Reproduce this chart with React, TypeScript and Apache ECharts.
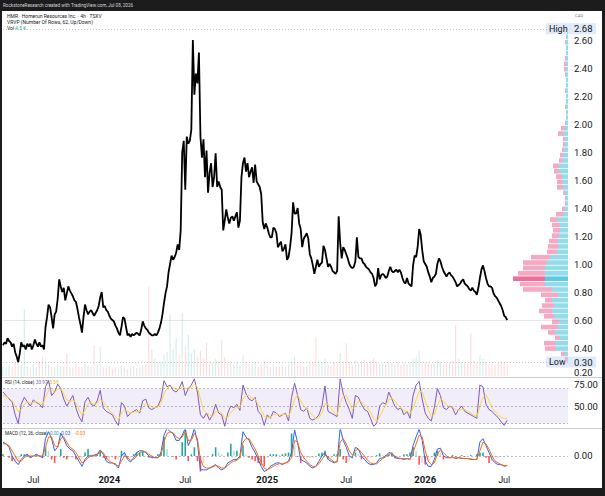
import React, { useEffect, useRef } from "react";
import * as echarts from "echarts";

// ---------- data ----------
// closing price, two samples per week
const priceClose = [
  0.42, 0.44, 0.43, 0.47, 0.45, 0.44, 0.41, 0.43, 0.37, 0.34,
  0.3, 0.36, 0.44, 0.41, 0.42, 0.39, 0.43, 0.41, 0.43, 0.39,
  0.42, 0.46, 0.43, 0.41, 0.44, 0.41, 0.42, 0.39, 0.55, 0.62,
  0.71, 0.69, 0.62, 0.54, 0.64, 0.66, 0.75, 0.89, 0.84, 0.8,
  0.83, 0.74, 0.79, 0.84, 0.81, 0.79, 0.77, 0.74, 0.73, 0.68,
  0.62, 0.57, 0.51, 0.62, 0.71, 0.67, 0.64, 0.66, 0.67, 0.65,
  0.63, 0.65, 0.67, 0.7, 0.76, 0.8, 0.69, 0.7, 0.67, 0.66,
  0.63, 0.61, 0.6, 0.59, 0.56, 0.54, 0.51, 0.49, 0.55, 0.62,
  0.61, 0.55, 0.49, 0.5, 0.48, 0.5, 0.49, 0.5, 0.51, 0.5,
  0.49, 0.53, 0.59, 0.56, 0.54, 0.53, 0.51, 0.5, 0.49, 0.49,
  0.5, 0.49, 0.51, 0.54, 0.58, 0.64, 0.72, 0.79, 0.84, 0.94,
  1.0, 1.06, 1.03, 1.05, 1.08, 1.14, 1.1, 1.24, 1.8, 1.88,
  1.53, 1.91, 1.86, 1.88, 1.96, 2.6, 2.21, 2.36, 2.29, 2.51,
  1.91, 1.76, 1.89, 1.62, 1.81, 1.51, 1.65, 1.72, 1.55, 1.62,
  1.79, 1.55, 1.59, 1.55, 1.53, 1.24, 1.31, 1.39, 1.33, 1.29,
  1.33, 1.34, 1.31, 1.34, 1.37, 1.26, 1.31, 1.62, 1.72, 1.76,
  1.66, 1.72, 1.62, 1.66, 1.69, 1.58, 1.71, 1.59, 1.57, 1.55,
  1.5, 1.3, 1.25, 1.29, 1.26, 1.22, 1.19, 1.19, 1.26, 1.25,
  1.22, 1.12, 1.14, 1.16, 1.09, 1.11, 1.14, 1.03, 1.05, 1.12,
  1.22, 1.44, 1.36, 1.36, 1.4, 1.29, 1.25, 1.12, 1.18, 1.2,
  1.22, 1.18, 1.07, 1.04, 0.99, 0.93, 0.98, 1.03, 0.98, 1.0,
  1.01, 1.13, 1.1, 1.04, 0.98, 1.0, 0.98, 0.95, 0.94, 0.93,
  0.95, 1.34, 1.15, 1.04, 1.12, 1.1, 1.07, 1.04, 1.0, 0.98,
  0.97, 0.98, 1.02, 1.19, 1.05, 1.04, 1.04, 1.01, 1.0, 0.98,
  0.97, 0.96, 0.94, 0.93, 0.9, 0.84, 0.86, 0.97, 0.89, 0.92,
  0.93, 0.92, 0.9, 0.91, 0.95, 0.98, 0.95, 0.94, 0.95, 0.96,
  0.94, 0.96, 0.94, 0.9, 0.87, 0.86, 0.9, 0.86, 0.85, 0.84,
  0.99, 1.06, 1.05, 1.12, 1.25, 1.21, 1.1, 1.02, 1.0, 0.98,
  0.94, 0.91, 0.87, 0.9, 0.91, 0.93, 1.0, 1.04, 1.02, 0.98,
  0.95, 0.93, 0.91, 0.93, 0.94, 0.92, 0.91, 0.89, 0.87, 0.84,
  0.85, 0.86, 0.88, 0.89, 0.86, 0.85, 0.84, 0.82, 0.81, 0.83,
  0.81, 0.8, 0.78, 0.83, 0.9, 0.96, 0.99, 0.95, 0.9, 0.86,
  0.84, 0.84, 0.83, 0.79, 0.77, 0.76, 0.74, 0.72, 0.7, 0.67,
  0.63, 0.62, 0.6,
];

// weekly series
const volume = [
  10, 8, 12, 9, 14, 18, 12, 69, 10, 8,
  12, 9, 15, 20, 16, 12, 10, 8, 14, 11,
  10, 24, 9, 8, 12, 10, 9, 14, 11, 10,
  32, 12, 30, 9, 8, 10, 7, 9, 8, 11,
  9, 7, 8, 10, 8, 9, 11, 12, 93, 27,
  18, 14, 16, 22, 25, 64, 28, 40, 22, 66,
  30, 43, 24, 28, 20, 26, 18, 35, 16, 14,
  18, 15, 38, 20, 14, 16, 12, 14, 11, 22,
  16, 13, 12, 14, 10, 12, 16, 11, 9, 12,
  10, 9, 11, 10, 12, 16, 20, 14, 12, 10,
  11, 13, 15, 41, 16, 14, 18, 12, 11, 14,
  12, 24, 15, 34, 14, 12, 16, 13, 15, 17,
  14, 16, 18, 15, 13, 14, 12, 16, 13, 12,
  14, 11, 13, 12, 14, 18, 20, 26, 16, 14,
  15, 13, 12, 17, 14, 12, 13, 15, 16, 53,
  18, 14, 15, 13, 45, 16, 14, 22, 18, 15,
  13, 14, 12, 13, 15, 14, 12,
];
const volumeUp = [
  1, 1, 1, 0, 0, 0, 1, 1, 1, 0,
  1, 1, 0, 0, 1, 1, 0, 1, 1, 1,
  0, 0, 1, 0, 0, 0, 0, 1, 0, 1,
  0, 1, 1, 0, 0, 0, 0, 0, 0, 1,
  1, 0, 0, 1, 1, 0, 1, 0, 0, 0,
  1, 1, 1, 1, 1, 1, 1, 1, 0, 1,
  0, 1, 1, 1, 0, 0, 0, 0, 0, 1,
  1, 0, 0, 0, 1, 0, 1, 1, 0, 1,
  0, 0, 1, 1, 0, 0, 0, 1, 0, 1,
  0, 0, 0, 1, 0, 1, 1, 0, 0, 0,
  1, 0, 0, 0, 1, 1, 1, 0, 0, 0,
  0, 1, 0, 0, 0, 0, 1, 1, 0, 0,
  0, 0, 0, 0, 1, 1, 0, 1, 0, 1,
  0, 0, 0, 1, 0, 1, 1, 1, 0, 0,
  0, 0, 1, 1, 1, 0, 0, 1, 0, 0,
  1, 1, 0, 0, 0, 0, 0, 1, 1, 0,
  0, 0, 0, 0, 0, 0, 0,
];

const rsi = [
  66, 62, 58, 55, 40, 30, 52, 60, 55, 50,
  57, 54, 52, 48, 72, 79, 62, 66, 75, 70,
  58, 50, 56, 62, 48, 38, 32, 55, 60, 52,
  50, 56, 68, 48, 44, 42, 40, 33, 28, 54,
  50, 38, 42, 44, 46, 42, 56, 58, 48, 46,
  48, 50, 58, 79, 72, 74, 68, 66, 70, 78,
  62, 70, 74, 81, 66, 40, 36, 42, 34, 40,
  52, 42, 40, 27, 42, 50, 48, 52, 45, 74,
  64, 58, 56, 60, 44, 40, 28, 40, 36, 44,
  42, 38, 40, 42, 33, 60, 76, 62, 46, 44,
  48, 36, 34, 36, 40, 50, 73, 44, 42, 40,
  38, 81, 64, 54, 46, 36, 62, 60, 52, 46,
  44, 36, 27, 30, 50, 54, 52, 66, 58, 50,
  46, 48, 40, 44, 36, 62, 74, 78, 58, 42,
  36, 33, 48, 70, 62, 48, 46, 50, 48, 40,
  46, 50, 44, 42, 40, 38, 36, 74, 72, 52,
  46, 44, 40, 37, 32, 28, 34,
];

const rsiMa = [
  62, 61, 59, 56, 50, 44, 46, 52, 55, 53,
  54, 55, 53, 51, 60, 68, 68, 66, 69, 70,
  64, 57, 55, 57, 54, 46, 40, 45, 52, 54,
  52, 53, 58, 55, 50, 45, 42, 38, 34, 42,
  46, 44, 42, 43, 44, 44, 48, 53, 52, 49,
  48, 49, 53, 64, 70, 73, 71, 69, 69, 72,
  70, 70, 71, 75, 72, 58, 46, 42, 40, 38,
  44, 44, 42, 36, 37, 43, 46, 49, 48, 58,
  62, 62, 59, 58, 52, 46, 38, 37, 37, 40,
  41, 40, 40, 41, 38, 46, 58, 63, 56, 50,
  47, 43, 39, 36, 37, 42, 53, 52, 47, 43,
  40, 54, 62, 62, 55, 46, 50, 55, 55, 51,
  48, 43, 36, 32, 38, 45, 51, 57, 59, 56,
  51, 48, 45, 44, 41, 47, 57, 67, 66, 56,
  46, 38, 40, 51, 58, 56, 51, 49, 49, 46,
  45, 46, 46, 44, 42, 40, 38, 50, 60, 63,
  56, 48, 44, 40, 37, 36, 35.6,
];

const macdLine = [
  0.08, 0.07, 0.05, 0.0, -0.03, -0.05, -0.02, 0.0, 0.01, -0.01,
  0.0, 0.01, 0.0, -0.01, 0.1, 0.14, 0.1, 0.03, 0.05, 0.13,
  0.1, 0.06, 0.04, 0.03, 0.0, -0.03, -0.06, -0.02, 0.0, 0.0,
  0.005, 0.01, 0.035, 0.01, -0.03, -0.04, -0.04, -0.05, -0.07, 0.0,
  0.02, -0.02, -0.035, -0.01, 0.02, 0.03, 0.03, 0.02, 0.0, -0.01,
  -0.01, -0.01, 0.02, 0.12, 0.16, 0.14, 0.13, 0.09, 0.09, 0.12,
  0.16, 0.06, 0.1, 0.16, 0.08, -0.08, -0.08, -0.08, -0.07, -0.06,
  -0.05, -0.07, -0.08, -0.07, -0.04, -0.03, -0.02, -0.02, 0.0, 0.14,
  0.11, 0.09, 0.05, 0.02, -0.02, -0.06, -0.09, -0.08, -0.06, -0.05,
  -0.04, -0.04, -0.05, -0.04, -0.03, 0.02, 0.15, 0.075, -0.02, -0.03,
  -0.04, -0.06, -0.07, -0.06, -0.03, 0.0, 0.02, -0.02, -0.03, -0.04,
  -0.03, 0.16, 0.09, 0.05, 0.0, -0.01, 0.05, 0.04, 0.0, -0.02,
  -0.04, -0.05, -0.05, -0.04, -0.015, -0.01, 0.0, 0.02, 0.015, -0.01,
  -0.015, -0.015, -0.02, -0.015, -0.02, 0.06, 0.11, 0.155, 0.09, -0.03,
  -0.06, -0.06, -0.02, 0.04, 0.045, 0.0, -0.01, -0.01, -0.005, -0.015,
  -0.01, -0.015, -0.015, -0.015, -0.02, -0.02, -0.02, 0.08, 0.1, 0.06,
  0.02, -0.02, -0.04, -0.05, -0.05, -0.06, -0.055,
];

const signalLine = [
  0.07, 0.07, 0.06, 0.03, 0.0, -0.03, -0.03, -0.01, 0.0, 0.0,
  0.0, 0.0, 0.0, 0.0, 0.05, 0.11, 0.11, 0.06, 0.05, 0.1,
  0.11, 0.08, 0.05, 0.04, 0.02, -0.01, -0.04, -0.03, -0.01, 0.0,
  0.0, 0.005, 0.025, 0.02, -0.01, -0.03, -0.04, -0.045, -0.06, -0.03,
  0.0, -0.01, -0.025, -0.02, 0.0, 0.02, 0.025, 0.025, 0.01, 0.0,
  -0.01, -0.01, 0.005, 0.08, 0.13, 0.14, 0.135, 0.11, 0.1, 0.11,
  0.14, 0.09, 0.09, 0.13, 0.1, -0.02, -0.06, -0.07, -0.07, -0.065,
  -0.055, -0.06, -0.07, -0.07, -0.055, -0.04, -0.03, -0.025, -0.01, 0.08,
  0.1, 0.1, 0.07, 0.04, 0.0, -0.04, -0.07, -0.08, -0.07, -0.06,
  -0.05, -0.045, -0.045, -0.04, -0.035, -0.01, 0.09, 0.08, 0.02, -0.01,
  -0.03, -0.05, -0.06, -0.06, -0.045, -0.02, 0.005, -0.005, -0.02, -0.035,
  -0.035, 0.08, 0.1, 0.07, 0.03, 0.005, 0.03, 0.04, 0.02, 0.0,
  -0.025, -0.04, -0.045, -0.045, -0.03, -0.015, -0.005, 0.01, 0.015, 0.0,
  -0.01, -0.015, -0.015, -0.015, -0.02, 0.02, 0.07, 0.12, 0.11, 0.03,
  -0.03, -0.05, -0.04, 0.01, 0.035, 0.02, 0.0, -0.01, -0.01, -0.01,
  -0.01, -0.012, -0.015, -0.015, -0.017, -0.02, -0.02, 0.03, 0.08, 0.07,
  0.04, 0.0, -0.03, -0.04, -0.05, -0.055, -0.055,
];

const macdHist = [
  0.01, 0.0, -0.01, -0.03, -0.03, -0.02, 0.01, 0.01, 0.01, -0.01,
  0.0, 0.01, 0.0, -0.01, 0.05, 0.03, -0.02, -0.04, 0.0, 0.04,
  -0.01, -0.02, -0.01, -0.01, -0.02, -0.02, -0.02, 0.02, 0.04, 0.01,
  0.005, 0.005, 0.03, -0.01, -0.02, -0.02, -0.01, -0.02, -0.02, 0.03,
  0.02, -0.01, -0.01, 0.01, 0.02, 0.02, 0.03, 0.0, -0.01, -0.01,
  0.0, 0.01, 0.02, 0.11, 0.04, 0.0, -0.005, -0.02, 0.0, 0.08,
  0.15, -0.03, 0.01, 0.05, -0.03, -0.09, -0.04, -0.01, 0.0, 0.01,
  0.05, 0.02, 0.01, 0.0, 0.02, 0.07, 0.03, 0.03, -0.01, 0.06,
  0.01, -0.01, -0.02, -0.03, -0.04, -0.05, -0.06, -0.01, 0.01, 0.01,
  0.01, 0.005, 0.01, 0.015, 0.02, 0.13, 0.06, -0.005, -0.04, -0.02,
  -0.01, -0.01, -0.01, 0.0, 0.015, 0.02, 0.03, -0.015, -0.01, 0.01,
  0.01, 0.04, -0.02, -0.04, -0.03, -0.015, 0.02, 0.01, -0.02, -0.02,
  -0.02, -0.01, -0.005, 0.005, 0.015, 0.005, 0.005, 0.01, 0.02, -0.01,
  -0.005, 0.0, 0.01, 0.01, 0.02, 0.05, 0.03, -0.05, -0.04, -0.05,
  -0.03, -0.01, 0.02, 0.03, 0.02, -0.02, -0.01, 0.0, 0.005, -0.005,
  0.0, 0.005, -0.005, 0.0, 0.005, 0.0, 0.01, 0.02, 0.02, -0.01,
  -0.04, -0.03, -0.01, -0.01, -0.005, -0.005, 0.001,
];

// volume profile rows (62 rows between low and high), bottom row first
const vpUp = [
  1, 3, 12, 13, 8, 13, 10, 9, 14, 16,
  14, 16, 10, 16, 23, 23, 23, 23, 21, 18,
  11, 10, 10, 9, 8, 8, 11, 5, 3, 2,
  2, 3, 5, 5, 6, 9, 9, 5, 5, 4,
  3, 3, 5, 3, 2, 2, 2, 2, 2, 2,
  2, 2, 2, 2, 2, 2, 2, 2, 2, 2,
  2, 1,
];
const vpDown = [
  2, 4, 11, 11, 5, 7, 17, 7, 10, 13,
  12, 7, 17, 29, 25, 32, 27, 22, 24, 19,
  10, 10, 9, 7, 7, 8, 7, 7, 3, 1,
  1, 2, 6, 6, 6, 5, 6, 4, 3, 2,
  2, 2, 5, 4, 1, 0, 0, 1, 0, 0,
  1, 0, 0, 1, 2, 2, 1, 0, 0, 1,
  0, 0,
];
const pocRow = 15;

const highValue = 2.68;
const lowValue = 0.3;
const lastValue = 0.6;

const tickLabels = ["Jul", "2024", "Jul", "2025", "Jul", "2026", "Jul"];
const tickBars = [10, 35, 60, 87, 113, 139, 165];
const tickDates = ["2023-07-03", "2024-01-02", "2024-07-02", "2025-01-02", "2025-07-02", "2026-01-02", "2026-07-02"];
const WEEK_SLOTS = 187;

// ---------- derived categories ----------
const ts = tickDates.map((d) => new Date(d + "T00:00:00Z").getTime());
function dateAt(i: number): string {
  let k = 0;
  while (k < tickBars.length - 2 && i > tickBars[k + 1]) k++;
  const t = ts[k] + ((i - tickBars[k]) * (ts[k + 1] - ts[k])) / (tickBars[k + 1] - tickBars[k]);
  return new Date(t).toISOString().slice(0, 16).replace("T", " ");
}
const weekCats: string[] = [];
for (let i = 0; i < WEEK_SLOTS; i++) weekCats.push(dateAt(i));
const halfCats: string[] = [];
for (let j = 0; j < WEEK_SLOTS * 2 - 1; j++) halfCats.push(dateAt(j / 2));
const vpRows = vpUp.map((_, k) => (lowValue + ((highValue - lowValue) * k) / vpUp.length).toFixed(3));

const FONT = "Roboto, 'Liberation Sans', sans-serif";
const TXT = "#131722";

function baseX(gridIndex: number, data: string[]) {
  return {
    type: "category" as const,
    gridIndex,
    data,
    boundaryGap: false,
    axisLine: { show: false, onZero: false },
    axisTick: { show: false },
    axisLabel: { show: false },
    splitLine: { show: false },
  };
}

export default function App() {
  const ref = useRef<HTMLDivElement>(null);
  useEffect(() => {
    const chart = echarts.init(ref.current!, null, { renderer: "svg" });
    const L = 3;
    const R = 37;
    const option: any = {
      animation: false,
      backgroundColor: "transparent",
      textStyle: { fontFamily: FONT },
      grid: [
        { left: L, right: R, top: 12, height: 364 },
        { left: L, right: R, top: 280, height: 96 },
        { left: L, right: R, top: 28.8, height: 333.2 },
        { left: L, right: R, top: 378, height: 50 },
        { left: L, right: R, top: 430, height: 43.3 },
      ],
      xAxis: [
        baseX(0, halfCats),
        baseX(1, weekCats),
        { type: "value", gridIndex: 2, inverse: true, min: 0, max: 565, show: false },
        baseX(3, weekCats),
        baseX(4, weekCats),
      ],
      yAxis: [
        {
          type: "value",
          gridIndex: 0,
          position: "right",
          min: 0.2,
          max: 2.8,
          interval: 0.2,
          axisLine: { show: false },
          axisTick: { show: false },
          splitLine: { show: false },
          axisLabel: {
            margin: 6,
            fontSize: 9.5,
            color: TXT,
            fontFamily: FONT,
            showMaxLabel: false,
            formatter: (v: number) => (Math.abs(v - 0.2) < 1e-6 ? "{lo|0.20}" : v.toFixed(2)),
            rich: { lo: { fontSize: 9.5, color: TXT, fontFamily: FONT, padding: [0, 0, 7, 0] } },
          },
        },
        { type: "value", gridIndex: 1, min: 0, max: 100, show: false },
        { type: "category", gridIndex: 2, data: vpRows, show: false },
        {
          type: "value",
          gridIndex: 3,
          position: "right",
          min: 25,
          max: 82,
          interval: 25,
          axisLine: { show: false },
          axisTick: { show: false },
          splitLine: { show: false },
          axisLabel: {
            margin: 6,
            fontSize: 9.5,
            color: TXT,
            fontFamily: FONT,
            showMinLabel: false,
            showMaxLabel: false,
            formatter: (v: number) => v.toFixed(2),
          },
        },
        {
          type: "value",
          gridIndex: 4,
          position: "right",
          min: -0.1,
          max: 0.15,
          interval: 0.05,
          axisLine: { show: false },
          axisTick: { show: false },
          splitLine: { show: false },
          axisLabel: {
            margin: 6,
            fontSize: 9.5,
            color: TXT,
            fontFamily: FONT,
            formatter: (v: number) => (Math.abs(v) < 1e-9 ? "0.00" : ""),
          },
        },
      ],
      series: [
        {
          type: "bar",
          xAxisIndex: 1,
          yAxisIndex: 1,
          barWidth: 1.1,
          silent: true,
          data: volume.map((v, i) => ({
            value: v,
            itemStyle: { color: volumeUp[i] ? "rgba(38,166,154,0.2)" : "rgba(239,83,80,0.2)" },
          })),
        },
        {
          type: "bar",
          xAxisIndex: 2,
          yAxisIndex: 2,
          stack: "vp",
          barCategoryGap: "14%",
          silent: true,
          data: vpUp.map((v, k) => ({ value: v, itemStyle: { color: k === pocRow ? "#5ccbe0" : "#95dceb" } })),
        },
        {
          type: "bar",
          xAxisIndex: 2,
          yAxisIndex: 2,
          stack: "vp",
          barCategoryGap: "14%",
          silent: true,
          data: vpDown.map((v, k) => ({ value: v, itemStyle: { color: k === pocRow ? "#ef6f98" : "#f6a9c2" } })),
        },
        {
          type: "line",
          xAxisIndex: 0,
          yAxisIndex: 0,
          data: priceClose,
          showSymbol: false,
          lineStyle: { color: "#000000", width: 1.8 },
          z: 5,
          markLine: {
            silent: true,
            symbol: ["none", "none"],
            label: { show: false },
            data: [
              { yAxis: highValue, lineStyle: { color: "rgba(120,123,134,0.4)", type: [1, 2], width: 1 } },
              { yAxis: lowValue, lineStyle: { color: "rgba(120,123,134,0.4)", type: [1, 2], width: 1 } },
              { yAxis: lastValue, lineStyle: { color: "rgba(180,150,160,0.25)", type: "solid", width: 1 } },
            ],
          },
        },
        {
          type: "line",
          xAxisIndex: 3,
          yAxisIndex: 3,
          data: rsi,
          showSymbol: false,
          lineStyle: { color: "#7e57c2", width: 1 },
          markArea: {
            silent: true,
            itemStyle: { color: "rgba(126,87,194,0.1)" },
            data: [[{ yAxis: 70 }, { yAxis: 30 }]],
          },
          markLine: {
            silent: true,
            symbol: ["none", "none"],
            label: { show: false },
            lineStyle: { color: "rgba(120,123,134,0.5)", type: [2, 2], width: 1 },
            data: [{ yAxis: 70 }, { yAxis: 50 }, { yAxis: 30 }],
          },
        },
        {
          type: "line",
          xAxisIndex: 3,
          yAxisIndex: 3,
          data: rsiMa,
          showSymbol: false,
          lineStyle: { color: "#fdd835", width: 1 },
        },
        {
          type: "bar",
          xAxisIndex: 4,
          yAxisIndex: 4,
          barWidth: 1.6,
          silent: true,
          data: macdHist.map((h, i) => {
            const p = i > 0 ? macdHist[i - 1] : 0;
            const c = h >= 0 ? (h >= p ? "#26a69a" : "#b2dfdb") : h < p ? "#ff5252" : "#ffcdd2";
            return { value: h, itemStyle: { color: c } };
          }),
          markLine: {
            silent: true,
            symbol: ["none", "none"],
            label: { show: false },
            lineStyle: { color: "rgba(120,123,134,0.5)", type: [2, 2], width: 1 },
            data: [{ yAxis: 0 }],
          },
        },
        {
          type: "line",
          xAxisIndex: 4,
          yAxisIndex: 4,
          data: macdLine,
          showSymbol: false,
          lineStyle: { color: "#2962ff", width: 1 },
        },
        {
          type: "line",
          xAxisIndex: 4,
          yAxisIndex: 4,
          data: signalLine,
          showSymbol: false,
          lineStyle: { color: "#ff6d00", width: 1 },
        },
      ],
    };
    chart.setOption(option);

    const yH = chart.convertToPixel({ yAxisIndex: 0 }, highValue) as number;
    const yL = chart.convertToPixel({ yAxisIndex: 0 }, lowValue) as number;
    const yMacdZero = chart.convertToPixel({ yAxisIndex: 4 }, 0) as number;
    const t = (text: string, x: number, y: number, size: number, fill: string, weight = "normal", align = "left") => ({
      type: "text",
      x,
      y,
      silent: true,
      style: { text, fill, fontSize: size, fontFamily: FONT, fontWeight: weight, align, verticalAlign: "middle" },
    });
    const sep = (y: number) => ({
      type: "line",
      silent: true,
      shape: { x1: 2, y1: y, x2: 602, y2: y },
      style: { stroke: "#c9ccd4", lineWidth: 1 },
    });
    const timeLabels = tickBars.map((b, k) => {
      const x = chart.convertToPixel({ xAxisIndex: 4 }, weekCats[b]) as number;
      const isYear = /^\d+$/.test(tickLabels[k]);
      return t(tickLabels[k], x, yMacdZero + 24, isYear ? 9.5 : 9, TXT, isYear ? "bold" : "normal", "center");
    });
    chart.setOption({
      graphic: {
        elements: [
          t("RockstoneResearch created with TradingView.com, Jul 08, 2026", 3, 5.5, 4.6, "#d1d4dc"),
          t("HMR · Homerun Resources Inc. · 4h · TSXV", 7, 15.5, 5, TXT),
          t("VRVP (Number Of Rows, 62, Up/Down)", 7, 21.8, 5, TXT),
          t("Vol", 7, 28, 5, TXT),
          t("4.5 K", 15, 28, 5, "#26a69a"),
          t("CAD", 575, 15.5, 4.2, "#787b86"),
          sep(377.5),
          sep(428.5),
          t("RSI (14, close)", 5, 382, 4.6, TXT),
          t("33.97", 36, 382, 4.6, "#7e57c2"),
          t("35.59", 47, 382, 4.6, "#e0b800"),
          t("MACD (12, 26, close)", 5, 433.8, 4.6, TXT),
          t("0.00", 50, 433.8, 4.6, "#26a69a"),
          t("-0.03", 60, 433.8, 4.6, "#2962ff"),
          t("-0.03", 75, 433.8, 4.6, "#ff6d00"),
          ...timeLabels,
          {
            type: "rect",
            silent: true,
            shape: { x: 546, y: yH - 5.5, width: 50, height: 11 },
            style: { fill: "#e1eafa" },
          },
          t("High", 549, yH, 9, TXT),
          t(highValue.toFixed(2), 574, yH, 9.5, TXT),
          {
            type: "rect",
            silent: true,
            shape: { x: 546, y: yL - 5.5, width: 50, height: 11 },
            style: { fill: "#e1eafa" },
          },
          t("Low", 549, yL, 9, TXT),
          t(lowValue.toFixed(2), 574, yL, 9.5, TXT),
        ],
      },
    });
    return () => chart.dispose();
  }, []);

  return (
    <div style={{ position: "fixed", left: 0, top: 0, width: 605, height: 496, background: "#1c1c1c", overflow: "hidden" }}>
      <div style={{ position: "absolute", left: 2, top: 11, width: 600, height: 477, background: "#ffffff" }} />
      <div ref={ref} style={{ position: "absolute", left: 0, top: 0, width: 605, height: 496 }} />
    </div>
  );
}
